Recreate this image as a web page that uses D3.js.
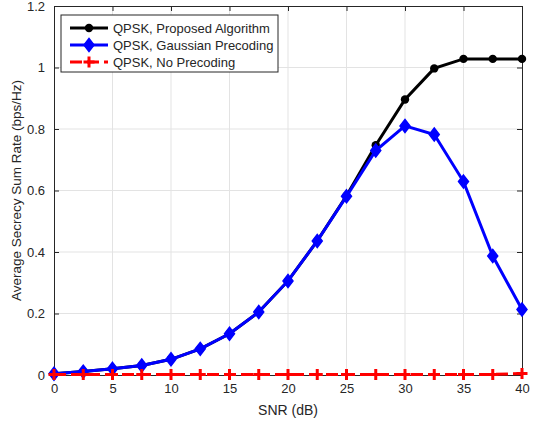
<!DOCTYPE html>
<html>
<head>
<meta charset="utf-8">
<script src="https://cdn.jsdelivr.net/npm/d3@7"></script>
<style>
  body { margin: 0; background: #fff; }
  text { font-family: "Liberation Sans", Arial, sans-serif; fill: #262626; }
</style>
</head>
<body>
<div id="chart"></div>
<script>
var snr = [0, 2.5, 5, 7.5, 10, 12.5, 15, 17.5, 20, 22.5, 25, 27.5, 30, 32.5, 35, 37.5, 40];
var proposed = [0.004, 0.011, 0.02, 0.031, 0.051, 0.085, 0.134, 0.205, 0.306, 0.436, 0.583, 0.747, 0.896, 0.997, 1.028, 1.028, 1.028];
var gaussian = [0.004, 0.011, 0.02, 0.031, 0.051, 0.085, 0.134, 0.205, 0.306, 0.436, 0.581, 0.73, 0.81, 0.782, 0.629, 0.387, 0.213];
var noPrecoding = [0.002, 0.002, 0.002, 0.002, 0.002, 0.002, 0.002, 0.002, 0.002, 0.002, 0.002, 0.002, 0.002, 0.002, 0.002, 0.002, 0.005];
var seriesNames = ["QPSK, Proposed Algorithm", "QPSK, Gaussian Precoding", "QPSK, No Precoding"];
var xTicks = [0, 5, 10, 15, 20, 25, 30, 35, 40];
var yTicks = [0, 0.2, 0.4, 0.6, 0.8, 1, 1.2];

var margin = { top: 6, right: 12, bottom: 47, left: 54 };
var width = 534 - margin.left - margin.right;
var height = 422 - margin.top - margin.bottom;

var svg = d3.select("#chart")
    .append("svg")
    .attr("width", 534)
    .attr("height", 422)
    .append("g")
    .attr("transform", "translate(" + margin.left + "," + margin.top + ")");

var x = d3.scaleLinear().domain([0, 40]).range([0, width]);
var y = d3.scaleLinear().domain([0, 1.2]).range([height, 0]);

// grid
svg.append("g").selectAll("line")
    .data(xTicks.slice(1, -1))
    .enter().append("line")
    .attr("x1", function(d) { return x(d); })
    .attr("x2", function(d) { return x(d); })
    .attr("y1", 0).attr("y2", height)
    .attr("stroke", "#e3e3e3").attr("stroke-width", 1);
svg.append("g").selectAll("line")
    .data(yTicks.slice(1, -1))
    .enter().append("line")
    .attr("y1", function(d) { return y(d); })
    .attr("y2", function(d) { return y(d); })
    .attr("x1", 0).attr("x2", width)
    .attr("stroke", "#e3e3e3").attr("stroke-width", 1);

// axes (ticks inward)
var xAxis = d3.axisBottom(x).tickValues(xTicks).tickSizeInner(-5).tickSizeOuter(0).tickPadding(9);
var yAxis = d3.axisLeft(y).tickValues(yTicks).tickSizeInner(-5).tickSizeOuter(0).tickPadding(9)
    .tickFormat(function(d) { return d; });

var gx = svg.append("g").attr("transform", "translate(0," + height + ")").call(xAxis);
var gy = svg.append("g").call(yAxis);
var gxTop = svg.append("g").call(d3.axisTop(x).tickValues(xTicks).tickSizeInner(-5).tickSizeOuter(0).tickFormat(""));
var gyRight = svg.append("g").attr("transform", "translate(" + width + ",0)")
    .call(d3.axisRight(y).tickValues(yTicks).tickSizeInner(-5).tickSizeOuter(0).tickFormat(""));

[gx, gy, gxTop, gyRight].forEach(function(g) {
  g.selectAll("path").attr("stroke", "#262626").attr("stroke-width", 1);
  g.selectAll("line").attr("stroke", "#262626");
  g.selectAll("text").style("font-size", "13px").attr("fill", "#262626");
});

// axis labels
svg.append("text")
    .attr("x", width / 2).attr("y", height + 40)
    .attr("text-anchor", "middle")
    .style("font-size", "14px")
    .text("SNR (dB)");
svg.append("text")
    .attr("transform", "translate(" + (-33) + "," + (height / 2) + ") rotate(-90)")
    .attr("text-anchor", "middle")
    .style("font-size", "13.5px")
    .text("Average Secrecy Sum Rate (bps/Hz)");

var line = d3.line()
    .x(function(d, i) { return x(snr[i]); })
    .y(function(d) { return y(d); });

var marks = svg.append("g");
var diamond = "M0,-6.5L5,0L0,6.5L-5,0Z";
var plus = "M-5.5,0H5.5M0,-5.5V5.5";

// proposed (black, circles)
marks.append("path").datum(proposed)
    .attr("d", line).attr("fill", "none")
    .attr("stroke", "#000").attr("stroke-width", 3);
marks.selectAll(".dotP").data(proposed).enter().append("circle")
    .attr("cx", function(d, i) { return x(snr[i]); })
    .attr("cy", function(d) { return y(d); })
    .attr("r", 4.2).attr("fill", "#000");

// gaussian (blue, diamonds)
marks.append("path").datum(gaussian)
    .attr("d", line).attr("fill", "none")
    .attr("stroke", "#0000ff").attr("stroke-width", 3);
marks.selectAll(".dotG").data(gaussian).enter().append("path")
    .attr("d", diamond)
    .attr("transform", function(d, i) { return "translate(" + x(snr[i]) + "," + y(d) + ")"; })
    .attr("fill", "#0000ff").attr("stroke", "#0000ff").attr("stroke-width", 1.5);

// no precoding (red dashed, plus)
marks.append("path").datum(noPrecoding)
    .attr("d", line).attr("fill", "none")
    .attr("stroke", "#ff0000").attr("stroke-width", 3)
    .attr("stroke-dasharray", "12,5");
marks.selectAll(".dotN").data(noPrecoding).enter().append("path")
    .attr("d", plus)
    .attr("transform", function(d, i) { return "translate(" + x(snr[i]) + "," + y(d) + ")"; })
    .attr("stroke", "#ff0000").attr("stroke-width", 3).attr("fill", "none");

// legend
var legend = svg.append("g").attr("transform", "translate(" + 7 + "," + 9 + ")");
legend.append("rect")
    .attr("width", 217).attr("height", 57)
    .attr("fill", "#fff").attr("stroke", "#262626").attr("stroke-width", 1);
var colors = ["#000", "#0000ff", "#ff0000"];
seriesNames.forEach(function(name, i) {
  var yy = 13 + i * 17;
  var row = legend.append("g").attr("transform", "translate(0," + yy + ")");
  var l = row.append("line").attr("x1", 9).attr("x2", 47).attr("y1", 0).attr("y2", 0)
      .attr("stroke", colors[i]).attr("stroke-width", 3);
  if (i === 0) {
    row.append("circle").attr("cx", 28).attr("cy", 0).attr("r", 4.2).attr("fill", "#000");
  } else if (i === 1) {
    row.append("path").attr("d", diamond)
        .attr("transform", "translate(28,0)")
        .attr("fill", "#0000ff").attr("stroke", "#0000ff").attr("stroke-width", 1.5);
  } else {
    l.attr("stroke-dasharray", "12,5");
    row.append("path").attr("d", plus)
        .attr("transform", "translate(28,0)")
        .attr("stroke", "#ff0000").attr("stroke-width", 3);
  }
  row.append("text").attr("x", 52).attr("y", 4.5)
      .style("font-size", "13px").attr("fill", "#000")
      .text(name);
});
</script>
</body>
</html>
